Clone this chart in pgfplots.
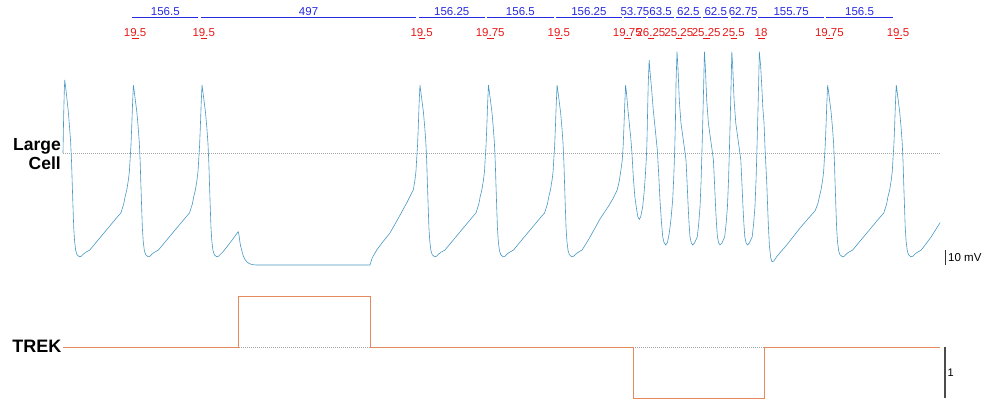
\documentclass[border=0pt]{standalone}
\usepackage{pgfplots}
\pgfplotsset{compat=1.18}
\usepackage{fontspec}
\setmainfont{Liberation Sans}

\definecolor{vtrace}{RGB}{72,152,196}
\definecolor{trekline}{RGB}{228,138,92}
\definecolor{isiblue}{RGB}{40,40,225}
\definecolor{widthred}{RGB}{232,24,24}
\definecolor{refgray}{RGB}{165,165,165}

\begin{document}
\begin{tikzpicture}
% ---------------- membrane potential of the large cell ----------------
\begin{axis}[
  at={(63pt,-273pt)}, anchor=south west,
  scale only axis, width=877pt, height=225pt,
  xmin=0, xmax=2000, ymin=-80, ymax=70,
  hide axis, clip=false]
\addplot[refgray, line width=0.6pt, dash pattern=on 0.8pt off 1.2pt] coordinates {(0,0) (2000,0)};
\addplot[vtrace, line width=0.6pt] coordinates {
 (0,0) (1.5,25) (3,42) (4,48.7)
 (6,44) (9,36) (12,28) (15,17) (17.5,7) (19.5,-6) (21,-20) (22.7,-35) (24.5,-50) (26.5,-59) (29,-65) (32,-67.8) (37.5,-69.2) (42,-68.8) (46,-67.5) (52,-66.2) (61,-64.7) (84,-56.6) (104,-49.6) (124,-42.6)
 (132,-40) (138.5,-34) (141.5,-29.3) (145.5,-24.5) (149.1,-18) (151.5,-12) (152.9,-4.7) (155,5) (156.7,17.3) (158.5,32) (160.5,45.3)
 (162.5,41) (165.5,34) (168.5,27) (171.5,17) (174,7) (176,-6) (177.5,-20) (179.2,-35) (181,-50) (183,-59) (185.5,-65) (188.5,-67.8) (194,-69.2) (198.5,-68.8) (202.5,-67.5) (208.5,-66.2) (217.5,-64.7) (240,-56.8) (260,-49.8) (280,-42.8)
 (288.5,-40) (295,-34) (298,-29.3) (302,-24.5) (305.6,-18) (308,-12) (309.4,-4.7) (311.5,5) (313.2,17.3) (315,32) (317,45.3)
 (319,41) (322,34) (325,27) (328,17) (330.5,7) (332.5,-6) (334,-20) (335.7,-35) (337.5,-50) (339.5,-59) (342,-65) (345,-67.8) (350.5,-69.2) (355,-68.8) (359,-67.5) (365,-65.8) (374,-62.5) (387,-57.5) (399.5,-52.5)
 (401,-54) (403,-58.5) (405,-62) (407.5,-64.7) (411,-68.5) (415,-71) (419,-72.5) (425,-73.8) (432,-74.4) (441.7,-74.7) (700,-74.7)
 (705,-70) (715.4,-64.7) (730,-59) (745.7,-53.3) (765,-43.3) (783.8,-33.3) (792,-28.5)
 (799,-24.5) (802.6,-18) (805,-12) (806.4,-4.7) (808.5,5) (810.2,17.3) (812,32) (814,45.3)
 (816,41) (819,34) (822,27) (825,17) (827.5,7) (829.5,-6) (831,-20) (832.7,-35) (834.5,-50) (836.5,-59) (839,-65) (842,-67.8) (847.5,-69.2) (852,-68.8) (856,-67.5) (862,-66.2) (871,-64.7) (894,-56.6) (914,-49.6) (934,-42.6)
 (941.75,-40) (948.25,-34) (951.25,-29.3) (955.25,-24.5) (958.85,-18) (961.25,-12) (962.65,-4.7) (964.75,5) (966.45,17.3) (968.25,32) (970.25,45.3)
 (972.25,41) (975.25,34) (978.25,27) (981.25,17) (983.75,7) (985.75,-6) (987.25,-20) (988.95,-35) (990.75,-50) (992.75,-59) (995.25,-65) (998.25,-67.8) (1003.75,-69.2) (1008.25,-68.8) (1012.25,-67.5) (1018.25,-66.2) (1027.25,-64.7) (1050.25,-56.6) (1070.25,-49.6) (1090.25,-42.6)
 (1098.25,-40) (1104.75,-34) (1107.75,-29.3) (1111.75,-24.5) (1115.35,-18) (1117.75,-12) (1119.15,-4.7) (1121.25,5) (1122.95,17.3) (1124.75,32) (1126.75,45.3)
 (1128.75,41) (1131.75,34) (1134.75,27) (1137.75,17) (1140.25,7) (1142.25,-6) (1143.75,-20) (1145.45,-35) (1147.25,-50) (1149.25,-59) (1151.75,-65) (1154.75,-67.8) (1160.25,-69.2) (1164.75,-68.8) (1168.75,-67.5) (1174.75,-66.2) (1183.75,-64.7)
 (1200,-57) (1224.6,-44) (1245,-35) (1255,-30) (1264,-24.5) (1269,-18) (1272,-12) (1275.4,-4.7) (1277.5,5) (1279.2,17.3) (1281,32) (1283,45.3)
 (1285,40) (1289,27) (1292,18) (1294.6,10.9) (1297.5,0) (1300.5,-15.8) (1304,-29) (1308.3,-38) (1311,-42.5) (1314.2,-44.2) (1317.5,-42.5) (1322,-35.8) (1325,-27) (1327.9,-15.8) (1330,-5) (1331.5,5) (1333,25) (1334.5,45) (1336.75,62)
 (1338.5,55) (1342.5,42) (1346,29) (1350,17.5) (1355.3,2) (1358.5,-14) (1361.4,-31.3) (1364.5,-45) (1367.6,-55.8) (1370.5,-59.5) (1374.4,-61.3) (1378.5,-59.5) (1382.7,-53.3) (1386.5,-44) (1390.4,-31.3) (1393,-15) (1395,2) (1396.7,22) (1398,46.7) (1400.25,67.5)
 (1402.25,58) (1405.45,35.3) (1409.25,20) (1414.55,8.7) (1417.75,2) (1420.75,-4.7) (1423.25,-20) (1426.05,-38) (1427.95,-48) (1429.85,-55.8) (1432.75,-60) (1436.05,-61.3) (1440.25,-60) (1446.55,-55.8) (1449.75,-47) (1452.75,-35.8) (1455.25,-18) (1457.25,2) (1459.25,24) (1461.15,46.7) (1462.75,67.5)
 (1464.75,58) (1467.95,35.3) (1471.75,20) (1477.05,8.7) (1480.25,2) (1483.25,-4.7) (1485.75,-20) (1488.55,-38) (1490.45,-48) (1492.35,-55.8) (1495.25,-60) (1498.55,-61.3) (1502.75,-60) (1509.05,-55.8) (1512.25,-47) (1515.25,-35.8) (1517.75,-18) (1519.75,2) (1521.75,24) (1523.65,46.7) (1525.25,67.5)
 (1527.25,58) (1530.45,35.3) (1534.25,20) (1539.55,8.7) (1542.75,2) (1545.75,-4.7) (1548.25,-20) (1551.05,-38) (1552.95,-48) (1554.85,-55.8) (1557.75,-60) (1561.05,-61.3) (1565.25,-60) (1571.8,-55.8) (1575,-47) (1578,-35.8) (1580.5,-18) (1582.5,2) (1584.5,24) (1586.4,46.7) (1588,67.5)
 (1591,58) (1593.5,45) (1596,30) (1598.7,20) (1601,3) (1604.9,-20) (1608.5,-48) (1611,-62) (1614,-70) (1617,-72.5) (1621,-72) (1627.6,-69.1) (1638,-65.5) (1650,-61.5) (1680.8,-50) (1700,-43.5)
 (1715.25,-38.5) (1721.75,-33.5) (1724.75,-29.3) (1728.75,-24.5) (1732.35,-18) (1734.75,-12) (1736.15,-4.7) (1738.25,5) (1739.95,17.3) (1741.75,32) (1743.75,45.3)
 (1745.75,41) (1748.75,34) (1751.75,27) (1754.75,17) (1757.25,7) (1759.25,-6) (1760.75,-20) (1762.45,-35) (1764.25,-50) (1766.25,-59) (1768.75,-65) (1771.75,-67.8) (1777.25,-69.2) (1781.75,-68.8) (1785.75,-67.5) (1791.75,-66.2) (1800.75,-64.7) (1823.25,-56.8) (1843.25,-49.8) (1863.25,-42.8)
 (1871.75,-40) (1878.25,-34) (1881.25,-29.3) (1885.25,-24.5) (1888.85,-18) (1891.25,-12) (1892.65,-4.7) (1894.75,5) (1896.45,17.3) (1898.25,32) (1900.25,45.3)
 (1902.25,41) (1905.25,34) (1908.25,27) (1911.25,17) (1913.75,7) (1915.75,-6) (1917.25,-20) (1918.95,-35) (1920.75,-50) (1922.75,-59) (1925.25,-65) (1928.25,-67.8) (1933.75,-69.2) (1938.25,-68.8) (1942.25,-67.5) (1948.25,-66.2) (1957.25,-64.7) (1979.75,-56) (2000,-46.5)
};
% 10 mV scale bar
\draw[black!80, line width=0.9pt] (axis cs:2011.4,-74.7) -- (axis cs:2011.4,-64.7);
% inter-spike intervals (ms)
\begin{scope}[isiblue, line width=1pt]
\draw (axis cs:157.5,90.2) -- (axis cs:309,90.2);
\draw (axis cs:314,90.2) -- (axis cs:806,90.2);
\draw (axis cs:811,90.2) -- (axis cs:962.25,90.2);
\draw (axis cs:967.25,90.2) -- (axis cs:1118.75,90.2);
\draw (axis cs:1123.75,90.2) -- (axis cs:1275,90.2);
\draw (axis cs:1280,90.2) -- (axis cs:1328.75,90.2);
\draw (axis cs:1333.75,90.2) -- (axis cs:1392.25,90.2);
\draw (axis cs:1397.25,90.2) -- (axis cs:1454.75,90.2);
\draw (axis cs:1459.75,90.2) -- (axis cs:1517.25,90.2);
\draw (axis cs:1522.25,90.2) -- (axis cs:1580,90.2);
\draw (axis cs:1585,90.2) -- (axis cs:1735.75,90.2);
\draw (axis cs:1740.75,90.2) -- (axis cs:1892.25,90.2);
\end{scope}
\begin{scope}[every node/.style={isiblue, anchor=base, inner sep=0pt, font=\fontsize{11.5}{13}\selectfont}]
\node at (axis cs:233.25,91.5) {156.5};
\node at (axis cs:560,91.5) {497};
\node at (axis cs:886.6,91.5) {156.25};
\node at (axis cs:1043,91.5) {156.5};
\node at (axis cs:1199.4,91.5) {156.25};
\node at (axis cs:1304.4,91.5) {53.75};
\node at (axis cs:1363,91.5) {63.5};
\node at (axis cs:1426,91.5) {62.5};
\node at (axis cs:1488.5,91.5) {62.5};
\node at (axis cs:1551.1,91.5) {62.75};
\node at (axis cs:1660.4,91.5) {155.75};
\node at (axis cs:1816.5,91.5) {156.5};
\end{scope}
% spike widths (ms)
\begin{scope}[widthred, line width=1pt]
\draw (axis cs:157.5,76.2) -- (axis cs:172.5,76.2);
\draw (axis cs:314,76.2) -- (axis cs:329,76.2);
\draw (axis cs:811,76.2) -- (axis cs:826,76.2);
\draw (axis cs:967.25,76.2) -- (axis cs:982.25,76.2);
\draw (axis cs:1123.75,76.2) -- (axis cs:1138.75,76.2);
\draw (axis cs:1280,76.2) -- (axis cs:1295,76.2);
\draw (axis cs:1333.75,76.2) -- (axis cs:1348.75,76.2);
\draw (axis cs:1397.25,76.2) -- (axis cs:1412.25,76.2);
\draw (axis cs:1459.75,76.2) -- (axis cs:1474.75,76.2);
\draw (axis cs:1522.25,76.2) -- (axis cs:1537.25,76.2);
\draw (axis cs:1585,76.2) -- (axis cs:1600,76.2);
\draw (axis cs:1740.75,76.2) -- (axis cs:1755.75,76.2);
\draw (axis cs:1897.25,76.2) -- (axis cs:1912.25,76.2);
\end{scope}
\begin{scope}[every node/.style={widthred, anchor=base, inner sep=0pt, font=\fontsize{11.5}{13}\selectfont}]
\node at (axis cs:164.5,78) {19.5};
\node at (axis cs:321,78) {19.5};
\node at (axis cs:818,78) {19.5};
\node at (axis cs:974.25,78) {19.75};
\node at (axis cs:1130.75,78) {19.5};
\node at (axis cs:1287,78) {19.75};
\node at (axis cs:1340.75,78) {26.25};
\node at (axis cs:1404.25,78) {25.25};
\node at (axis cs:1466.75,78) {25.25};
\node at (axis cs:1529.25,78) {25.5};
\node at (axis cs:1592,78) {18};
\node at (axis cs:1747.75,78) {19.75};
\node at (axis cs:1904.25,78) {19.5};
\end{scope}
\end{axis}

% ---------------- TREK conductance step ----------------
\begin{axis}[
  at={(63pt,-408.2pt)}, anchor=south west,
  scale only axis, width=877pt, height=122.4pt,
  xmin=0, xmax=2000, ymin=-1.2, ymax=1.2,
  hide axis, clip=false]
\addplot[refgray, line width=0.6pt, dash pattern=on 0.8pt off 1.2pt] coordinates {(0,0) (2000,0)};
\addplot[trekline, line width=0.7pt] coordinates {
 (0,0) (400,0) (400,1) (700,1) (700,0) (1300,0) (1300,-1) (1600,-1) (1600,0) (2000,0)};
\draw[black!70, line width=1.3pt] (axis cs:2011.4,0) -- (axis cs:2011.4,-1);
\end{axis}

% ---------------- trace names and scale-bar labels ----------------
\node[anchor=base east, inner sep=0pt, font=\fontsize{17.5}{19}\selectfont\bfseries] at (61pt,-150.5pt) {Large};
\node[anchor=base east, inner sep=0pt, font=\fontsize{17.5}{19}\selectfont\bfseries] at (61pt,-169.3pt) {Cell};
\node[anchor=base east, inner sep=0pt, font=\fontsize{18}{20}\selectfont\bfseries] at (61.5pt,-352.7pt) {TREK};
\node[anchor=base west, inner sep=0pt, font=\fontsize{11.5}{13}\selectfont] at (948pt,-261.7pt) {10 mV};
\node[anchor=base west, inner sep=0pt, font=\fontsize{11}{13}\selectfont] at (947.5pt,-376.7pt) {1};

\pgfresetboundingbox
\useasboundingbox (0pt,0pt) rectangle (986pt,-403pt);
\end{tikzpicture}
\end{document}
